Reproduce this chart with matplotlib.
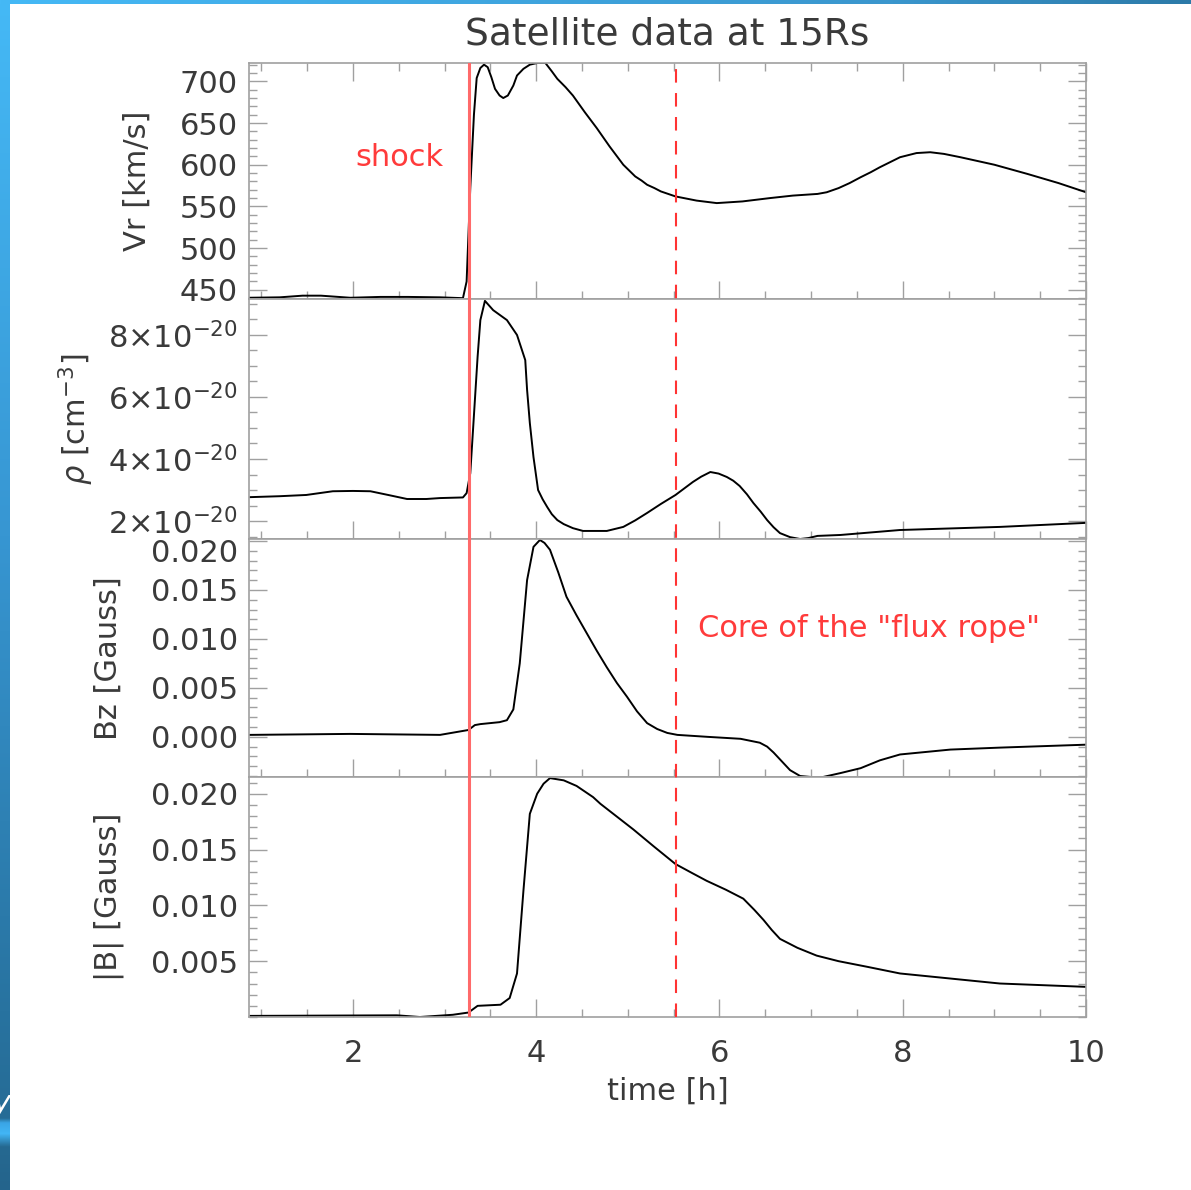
import numpy as np
import matplotlib
matplotlib.use("Agg")
import matplotlib.pyplot as plt
from matplotlib.ticker import MultipleLocator, FixedLocator, FixedFormatter
from matplotlib.transforms import ScaledTranslation

plt.rcParams["font.family"] = ["DejaVu Sans"]

# ---------------- data ----------------
t_vr = [0.87, 1.2, 1.45, 1.65, 1.97, 2.3, 2.6, 2.95, 3.2, 3.24, 3.28, 3.32, 3.35,
        3.39, 3.43, 3.47, 3.51, 3.55, 3.60, 3.64, 3.69, 3.75, 3.79, 3.86, 3.93,
        4.01, 4.10, 4.17, 4.23, 4.32, 4.40, 4.53, 4.66, 4.80, 4.95, 5.08, 5.15,
        5.21, 5.29, 5.36, 5.52, 5.75, 5.97, 6.25, 6.55, 6.80, 7.07, 7.17, 7.30,
        7.42, 7.54, 7.65, 7.75, 7.86, 7.97, 8.15, 8.30, 8.45, 8.63, 9.00, 9.36,
        9.70, 10.0]
vr = [440.5, 441, 443, 443, 440.5, 441.5, 441.5, 441, 440, 460, 572, 660, 704,
      716, 720, 717, 705, 691, 683, 680, 683, 695, 707, 715, 720,
      722, 722, 712, 703, 693, 683, 663, 644, 622, 600, 586, 581,
      576, 572, 568, 562, 557, 554, 556, 560, 563, 565, 567, 572,
      578, 585, 591, 597, 603, 609, 614, 615, 613, 609, 600, 589,
      578, 567]

t_rho = [0.88, 1.2, 1.49, 1.78, 2.0, 2.19, 2.4, 2.59, 2.8, 2.95, 3.2, 3.24, 3.28,
         3.31, 3.36, 3.39, 3.44, 3.53, 3.68, 3.79, 3.82, 3.88, 3.90, 3.93, 3.97,
         4.02, 4.07, 4.12, 4.17, 4.23, 4.30, 4.40, 4.51, 4.77, 4.95, 5.08, 5.21,
         5.36, 5.52, 5.71, 5.80, 5.90, 5.99, 6.08, 6.15, 6.22, 6.30, 6.37, 6.45,
         6.52, 6.59, 6.66, 6.77, 6.88, 6.97, 7.07, 7.32, 7.97, 9.06, 10.0]
rho = [2.77, 2.80, 2.84, 2.96, 2.97, 2.96, 2.83, 2.71, 2.71, 2.74, 2.76, 2.90, 3.54,
       4.94, 7.30, 8.48, 9.10, 8.80, 8.48, 8.00, 7.73, 7.19, 6.23, 5.16, 4.06,
       3.00, 2.70, 2.45, 2.22, 2.03, 1.90, 1.77, 1.68, 1.68, 1.81, 2.02, 2.26,
       2.55, 2.84, 3.26, 3.43, 3.58, 3.53, 3.42, 3.30, 3.13, 2.86, 2.58, 2.30,
       2.03, 1.80, 1.61, 1.48, 1.42, 1.45, 1.52, 1.55, 1.71, 1.81, 1.94]  # x 1e-20

t_bz = [0.87, 1.97, 2.95, 3.26, 3.33, 3.39, 3.60, 3.68, 3.75, 3.82, 3.90, 3.97,
        4.04, 4.09, 4.15, 4.24, 4.33, 4.44, 4.55, 4.66, 4.77, 4.88, 4.99, 5.10,
        5.21, 5.32, 5.43, 5.54, 5.87, 6.23, 6.44, 6.52, 6.59, 6.68, 6.77, 6.88,
        7.00, 7.13, 7.32, 7.54, 7.75, 7.97, 8.52, 9.06, 10.0]
bz = [0.0002, 0.0003, 0.0002, 0.0007, 0.0012, 0.0013, 0.0015, 0.0017, 0.0028,
      0.0075, 0.0160, 0.0194, 0.0201, 0.0198, 0.0191, 0.0168, 0.0143, 0.0124,
      0.0106, 0.0088, 0.0071, 0.0055, 0.0041, 0.0026, 0.0014, 0.0008, 0.0004,
      0.0002, 0.0000, -0.0002, -0.0006, -0.0010, -0.0016, -0.0025, -0.0034,
      -0.0040, -0.0041, -0.0041, -0.0037, -0.0032, -0.0024, -0.0018, -0.0013,
      -0.0011, -0.0008]

t_b = [0.88, 2.48, 2.73, 3.09, 3.26, 3.36, 3.61, 3.71, 3.79, 3.86, 3.93, 4.01,
       4.08, 4.15, 4.30, 4.44, 4.62, 4.70, 5.06, 5.28, 5.52, 5.70, 5.86, 6.07,
       6.26, 6.38, 6.48, 6.57, 6.66, 6.85, 7.06, 7.30, 7.61, 7.97, 9.06, 10.0]
bmag = [0.0001, 0.00015, 0.0, 0.0002, 0.0004, 0.0010, 0.0011, 0.0017, 0.0039,
        0.0113, 0.0182, 0.0200, 0.0209, 0.0214, 0.0212, 0.0207, 0.0197, 0.0191,
        0.0168, 0.0153, 0.0137, 0.0129, 0.0122, 0.0114, 0.0106, 0.0096, 0.0087,
        0.0078, 0.0070, 0.0062, 0.0055, 0.0050, 0.0045, 0.0039, 0.0030, 0.0027]

shock_time = 3.265
core_time = 5.52

vr_ticks = [450, 500, 550, 600, 650, 700]
rho_ticks = [2, 4, 6, 8]
rho_labels = [r"$2{\times}10^{-20}$", r"$4{\times}10^{-20}$",
              r"$6{\times}10^{-20}$", r"$8{\times}10^{-20}$"]
bz_ticks = [0.0, 0.005, 0.010, 0.015, 0.020]
bz_labels = ["0.000", "0.005", "0.010", "0.015", "0.020"]
b_ticks = [0.005, 0.010, 0.015, 0.020]
b_labels = ["0.005", "0.010", "0.015", "0.020"]

# ---------------- figure ----------------
TEXT = "#3a3a3a"
FRAME = "#a0a0a0"
W, H = 1191, 1190
fig = plt.figure(figsize=(W / 100, H / 100), dpi=100)

x_left, x_right = 249, 1086
rows = [63, 299, 539, 777, 1017]
xlim = (0.865, 10.0)

panels = [
    dict(t=t_vr, y=vr, ylim=(439, 722), ticks=vr_ticks,
         labels=[str(v) for v in vr_ticks], minor=10,
         ylabel="Vr [km/s]", lx=-0.133),
    dict(t=t_rho, y=rho, ylim=(1.42, 9.16), ticks=rho_ticks,
         labels=rho_labels, minor=0.5,
         ylabel=r"$\rho$ [cm$^{-3}$]", lx=-0.206),
    dict(t=t_bz, y=bz, ylim=(-0.0041, 0.0202), ticks=bz_ticks,
         labels=bz_labels, minor=0.001,
         ylabel="Bz [Gauss]", lx=-0.168),
    dict(t=t_b, y=bmag, ylim=(0.0, 0.0215), ticks=b_ticks,
         labels=b_labels, minor=0.001,
         ylabel="|B| [Gauss]", lx=-0.167),
]

axes = []
for i, p in enumerate(panels):
    top, bot = rows[i], rows[i + 1]
    ax = fig.add_axes([x_left / W, 1 - bot / H, (x_right - x_left) / W, (bot - top) / H])
    ax.plot(p["t"], p["y"], color="black", lw=1.4, solid_joinstyle="round")
    ax.set_xlim(*xlim)
    ax.set_ylim(*p["ylim"])
    ax.xaxis.set_major_locator(MultipleLocator(2))
    ax.xaxis.set_minor_locator(MultipleLocator(0.5))
    ax.yaxis.set_major_locator(FixedLocator(p["ticks"]))
    ax.yaxis.set_major_formatter(FixedFormatter(p["labels"]))
    ax.yaxis.set_minor_locator(MultipleLocator(p["minor"]))
    ax.tick_params(which="both", direction="in", color=FRAME, labelcolor=TEXT,
                   labelsize=22, left=True, right=True, bottom=True, top=(i == 0),
                   labelbottom=(i == 3), width=1.0)
    ax.tick_params(which="major", length=13)
    ax.tick_params(which="minor", length=5.5)
    ax.tick_params(axis="y", which="major", pad=8)
    ax.tick_params(axis="x", which="major", pad=16)
    for s in ax.spines.values():
        s.set_color(FRAME)
        s.set_linewidth(1.2)
    ax.set_ylabel(p["ylabel"], fontsize=22, color=TEXT, va="center")
    ax.yaxis.set_label_coords(p["lx"], 0.5)
    axes.append(ax)

# keep the top Bz label clear of the density label above it
top_bz = axes[2].yaxis.get_major_ticks()[-1].label1
top_bz.set_transform(top_bz.get_transform()
                     + ScaledTranslation(0, -10 / 100, fig.dpi_scale_trans))

axes[0].set_title("Satellite data at 15Rs", fontsize=27, color=TEXT, pad=13)
axes[3].set_xlabel("time [h]", fontsize=22, color=TEXT, labelpad=6)

axes[0].text(2.51, 609, "shock", color="#ff3b3b", fontsize=22,
             ha="center", va="center")
axes[2].text(5.76, 0.0111, "Core of the \"flux rope\"", color="#ff3b3b",
             fontsize=22, ha="left", va="center")

# marker lines spanning all four panels
ov = fig.add_axes([x_left / W, 1 - rows[4] / H, (x_right - x_left) / W,
                   (rows[4] - rows[0]) / H])
ov.set_xlim(*xlim)
ov.set_ylim(0, 1)
ov.axis("off")
ov.patch.set_alpha(0)
ov.axvline(shock_time, color="#ff6a6a", lw=2.2)
ov.axvline(core_time, color="#ff3333", lw=1.5, dashes=(6.5, 5))

# slide frame: blue strips along the left and top edges
def gradient(stops, n):
    pos = np.array([s[0] for s in stops])
    cols = np.array([s[1] for s in stops], dtype=float) / 255.0
    grid = np.linspace(0, 1, n)
    return np.stack([np.interp(grid, pos, cols[:, k]) for k in range(3)], axis=-1)

left_stops = [(0.0, (69, 185, 246)), (0.45, (55, 150, 210)), (0.85, (40, 115, 160)),
              (0.940, (38, 108, 150)), (0.944, (58, 165, 230)), (0.953, (66, 182, 246)),
              (0.964, (38, 105, 145)), (1.0, (36, 100, 140))]
strip = fig.add_axes([0, 0, 10 / W, 1])
strip.imshow(gradient(left_stops, H)[:, None, :], aspect="auto", extent=(0, 1, 0, 1))
strip.axis("off")

top_stops = [(0.0, (69, 185, 246)), (0.75, (58, 150, 205)), (1.0, (44, 122, 168))]
topbar = fig.add_axes([0, 1 - 4 / H, 1, 4 / H])
topbar.imshow(gradient(top_stops, W)[None, :, :], aspect="auto", extent=(0, 1, 0, 1))
topbar.axis("off")

fig.text(11 / W, 1 - 1104 / H, "y", color="white", fontsize=22, style="italic",
         ha="right", va="center")

fig.savefig("out.png", dpi=100)
